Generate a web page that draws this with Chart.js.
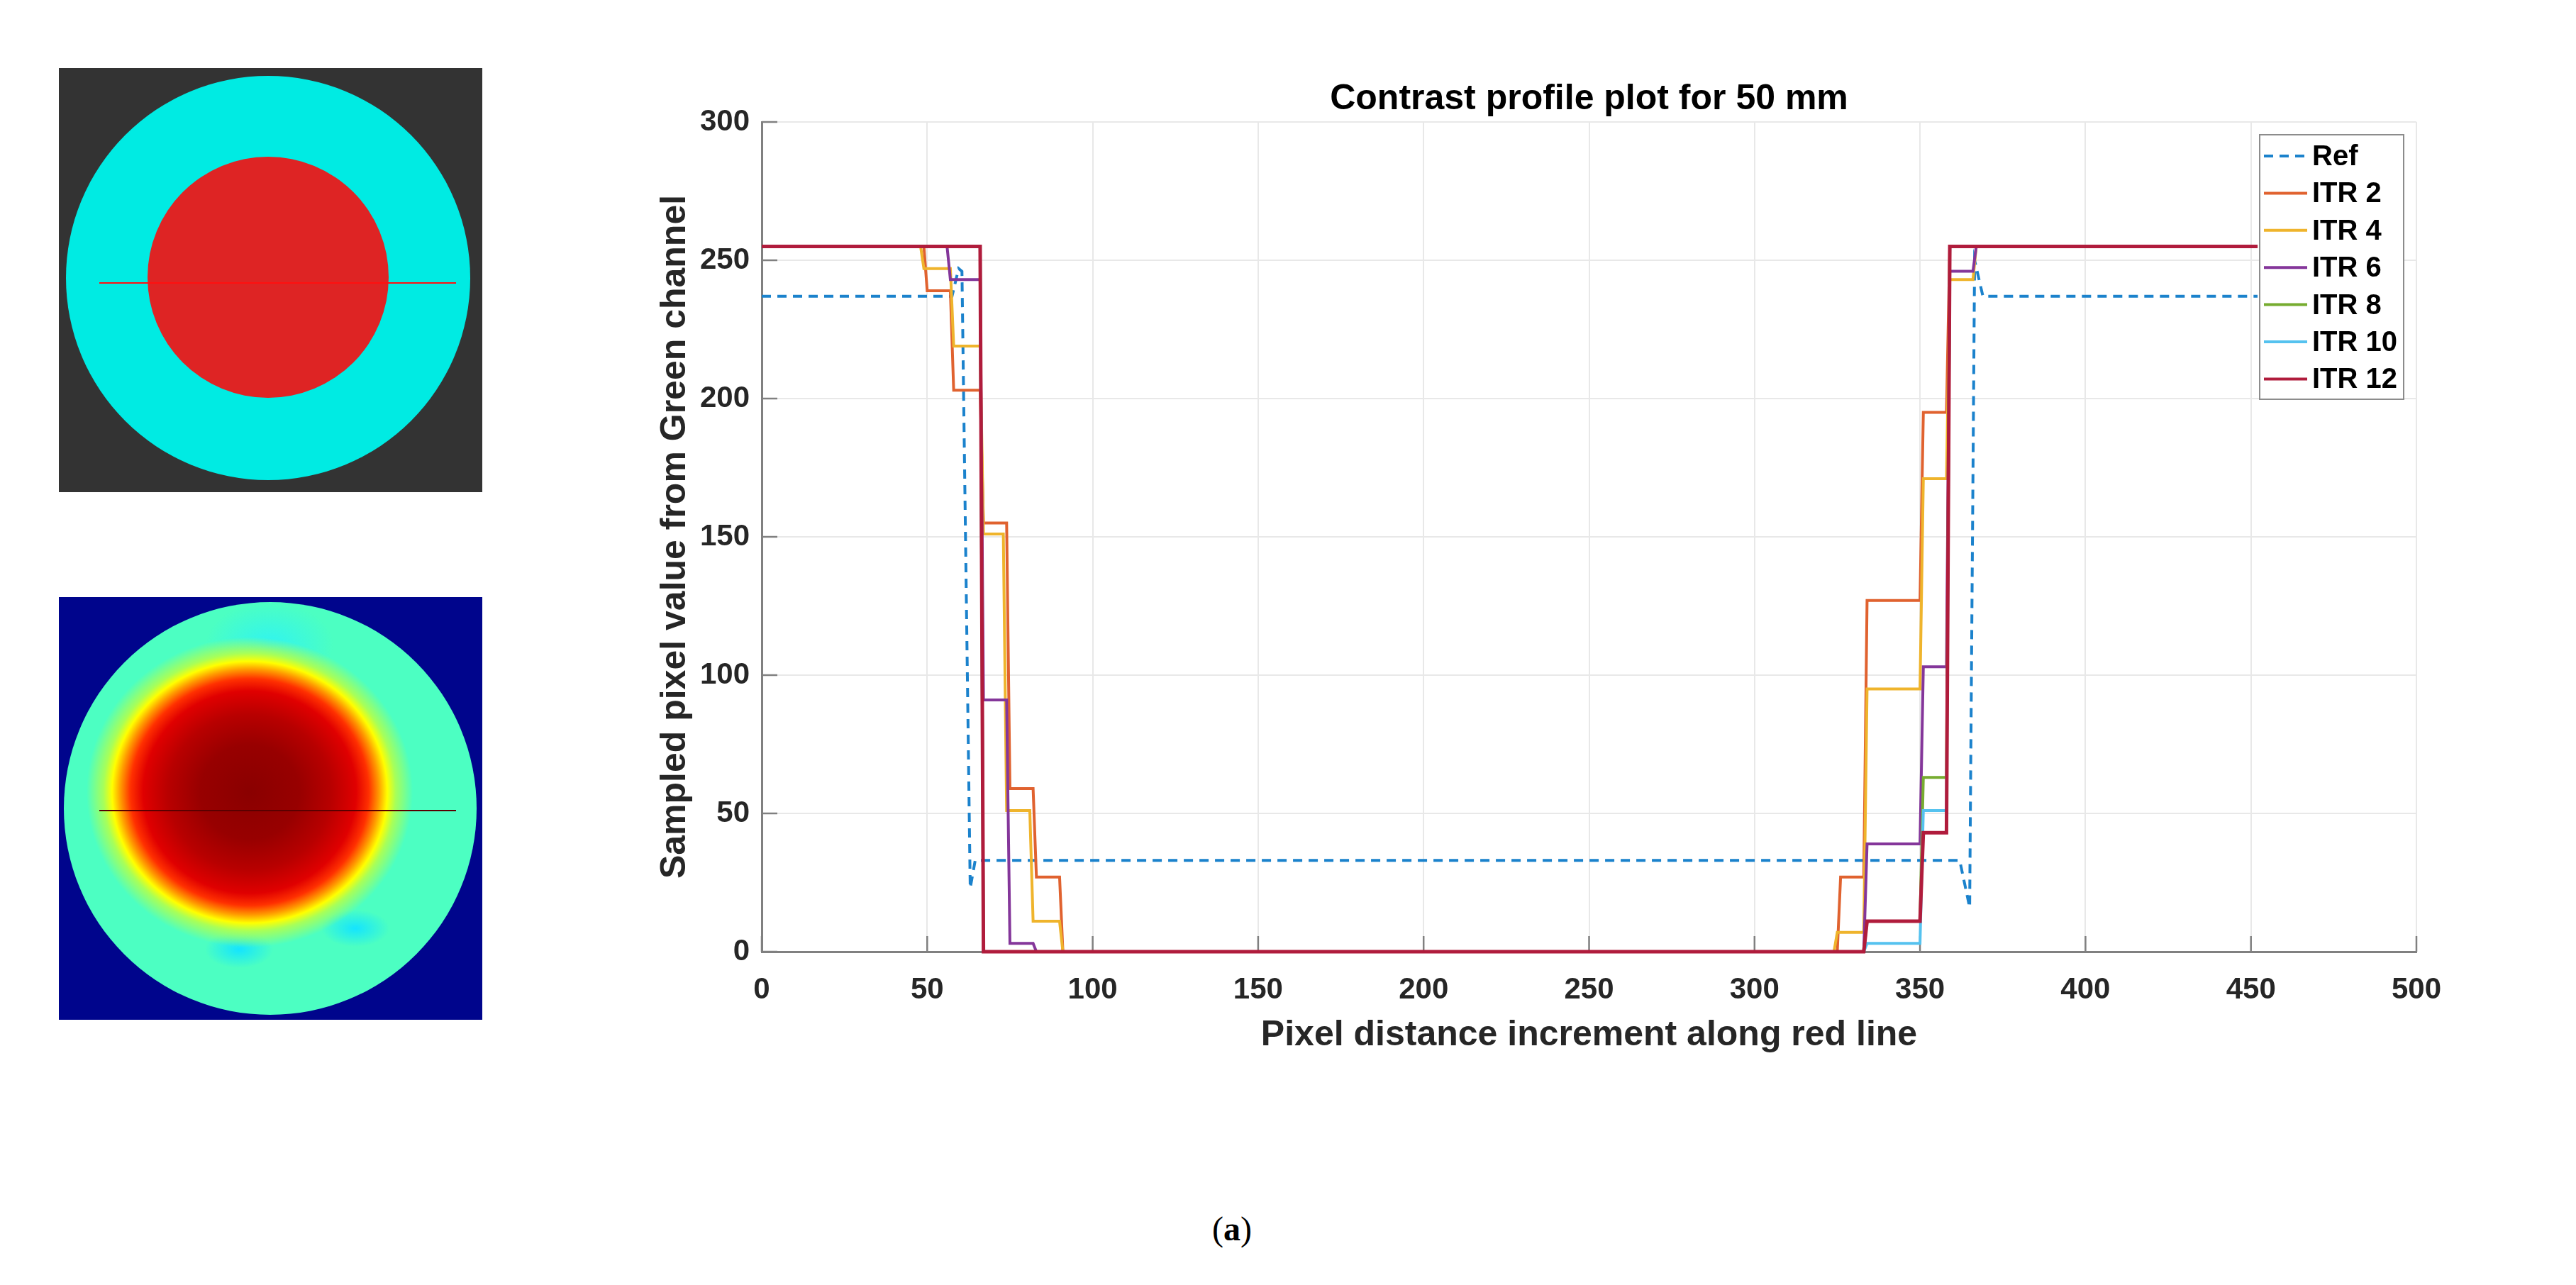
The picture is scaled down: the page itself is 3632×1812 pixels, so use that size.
<!DOCTYPE html>
<html>
<head>
<meta charset="utf-8">
<title>Contrast profile plot for 50 mm</title>
<script src="https://cdn.jsdelivr.net/npm/chart.js@4.4.1/dist/chart.umd.min.js"></script>
<style>
  html, body { margin: 0; padding: 0; background: #fff; width: 3632px; height: 1812px; overflow: hidden; }
  .box { position: absolute; overflow: hidden; }
  #phantom { left: 83px; top: 96px; width: 597px; height: 598px; background: #333333; }
  #recon { left: 83px; top: 842px; width: 597px; height: 596px; background: #00058c; }
  .disc { position: absolute; border-radius: 50%; }
  .cut { position: absolute; height: 2px; }
  #plot { position: absolute; left: 800px; top: 60px; width: 2700px; height: 1460px; }
  #caption { position: absolute; left: 1637px; top: 1705px; width: 200px; text-align: center;
             font: 48px "Liberation Serif", "DejaVu Serif", serif; color: #000; }
</style>
</head>
<body>

<!-- pictures on the left (phantom and reconstruction) -->
<div class="box" id="phantom">
  <div class="disc" style="left:10px; top:11px; width:570px; height:570px; background:#00ebe3;"></div>
  <div class="disc" style="left:125px; top:125px; width:340px; height:340px; background:#de2424;"></div>
  <div class="cut" style="left:57px; top:302px; width:503px; background:#ff1010;"></div>
</div>
<div class="box" id="recon">
  <div class="disc" style="left:7px; top:7px; width:582px; height:582px;
    background:
      radial-gradient(ellipse 205px 195px at 262px 268px, #8a0000 0px, #980000 70px, #b80000 115px, #e00000 150px, #ff3000 168px, #ff9a00 182px, #ffff00 194px, #a8ff58 206px, rgba(76,255,190,0) 230px),
      radial-gradient(ellipse 48px 26px at 247px 490px, #14e4ff 0px, rgba(20,228,255,0) 48px),
      radial-gradient(ellipse 48px 26px at 411px 460px, #14e4ff 0px, rgba(20,228,255,0) 48px),
      radial-gradient(ellipse 90px 60px at 290px 60px, #30f4f0 0px, rgba(48,244,240,0) 90px),
      #4cffc2;"></div>
  <div class="cut" style="left:57px; top:300px; width:503px; height:2px; background:#5a0000;"></div>
</div>

<div id="plot"><canvas id="chartCanvas"></canvas></div>
<div id="caption">(<b>a</b>)</div>

<script>
const seriesLabels = ["Ref", "ITR 2", "ITR 4", "ITR 6", "ITR 8", "ITR 10", "ITR 12"];

const refX = [0, 57.5, 59.5, 60.5, 63, 64.5, 362, 365, 366.5, 369, 452];
const refY = [237, 237, 247, 246, 23, 33, 33, 16, 250, 237, 237];

const itr2X = [0, 49, 50, 57, 58, 66, 67, 74, 75, 82, 83, 90, 91, 325, 326, 333, 334, 350, 351, 358, 359, 452];
const itr2Y = [255, 255, 239, 239, 203, 203, 155, 155, 59, 59, 27, 27, 0, 0, 27, 27, 127, 127, 195, 195, 255, 255];

const itr4X = [0, 48, 49, 57, 58, 66, 67, 73, 74, 81, 82, 90, 91, 324, 325, 333, 334, 350, 351, 358, 359, 366, 367, 452];
const itr4Y = [255, 255, 247, 247, 219, 219, 151, 151, 51, 51, 11, 11, 0, 0, 7, 7, 95, 95, 171, 171, 243, 243, 255, 255];

const itr6X = [0, 56, 57, 66, 67, 74, 75, 82, 83, 333, 334, 350, 351, 358, 359, 366, 367, 452];
const itr6Y = [255, 255, 243, 243, 91, 91, 3, 3, 0, 0, 39, 39, 103, 103, 246, 246, 255, 255];

const itr8X = [0, 66, 67, 333, 334, 350, 351, 358, 359, 452];
const itr8Y = [255, 255, 0, 0, 11, 11, 63, 63, 255, 255];

const itr10X = [0, 66, 67, 333, 334, 350, 351, 358, 359, 452];
const itr10Y = [255, 255, 0, 0, 3, 3, 51, 51, 255, 255];

const itr12X = [0, 66, 67, 333, 334, 350, 351, 358, 359, 452];
const itr12Y = [255, 255, 0, 0, 11, 11, 43, 43, 255, 255];

const FONT = '"Liberation Sans", Arial, sans-serif';

function makeSet(label, xs, ys, color, width, order, dash) {
  return {
    label: label,
    data: xs.map((x, i) => ({ x: x, y: ys[i] })),
    borderColor: color,
    backgroundColor: color,
    borderWidth: width,
    borderDash: dash || [],
    pointRadius: 0,
    tension: 0,
    fill: false,
    clip: false,
    order: order
  };
}

// legend drawn inside the axes, top right, like matlab
const legendInside = {
  id: "legendInside",
  afterDraw(chart) {
    const ctx = chart.ctx;
    const area = chart.chartArea;
    const w = 203, h = 373;
    const x0 = area.right - 18 - w;
    const y0 = area.top + 18;
    ctx.save();
    ctx.fillStyle = "#fff";
    ctx.fillRect(x0, y0, w, h);
    ctx.strokeStyle = "#8c8c8c";
    ctx.lineWidth = 2;
    ctx.strokeRect(x0, y0, w, h);
    ctx.font = "bold 40px " + FONT;
    ctx.textBaseline = "middle";
    chart.data.datasets.forEach((ds, i) => {
      const y = y0 + 30 + i * 52.4;
      ctx.strokeStyle = ds.borderColor;
      ctx.lineWidth = 4;
      ctx.setLineDash(ds.borderDash);
      ctx.beginPath();
      ctx.moveTo(x0 + 6, y);
      ctx.lineTo(x0 + 67, y);
      ctx.stroke();
      ctx.setLineDash([]);
      ctx.fillStyle = "#000";
      ctx.fillText(ds.label, x0 + 74, y + 2);
    });
    ctx.restore();
  }
};

// matlab ticks point into the axes
const innerTicks = {
  id: "innerTicks",
  beforeDatasetsDraw(chart) {
    const ctx = chart.ctx;
    const area = chart.chartArea;
    const xs = chart.scales.x, ys = chart.scales.y;
    ctx.save();
    ctx.strokeStyle = "#808080";
    ctx.lineWidth = 2.5;
    ctx.beginPath();
    xs.ticks.forEach(t => {
      const px = xs.getPixelForValue(t.value);
      ctx.moveTo(px, area.bottom);
      ctx.lineTo(px, area.bottom - 22);
    });
    ys.ticks.forEach(t => {
      const py = ys.getPixelForValue(t.value);
      ctx.moveTo(area.left, py);
      ctx.lineTo(area.left + 22, py);
    });
    ctx.stroke();
    ctx.restore();
  }
};

const ctx = document.getElementById("chartCanvas").getContext("2d");
new Chart(ctx, {
  type: "line",
  data: {
    datasets: [
      makeSet(seriesLabels[0], refX, refY, "#1b82cc", 4, 7, [13, 9]),
      makeSet(seriesLabels[1], itr2X, itr2Y, "#e0622f", 4, 6),
      makeSet(seriesLabels[2], itr4X, itr4Y, "#efb42c", 4, 5),
      makeSet(seriesLabels[3], itr6X, itr6Y, "#84369a", 4, 4),
      makeSet(seriesLabels[4], itr8X, itr8Y, "#77ac30", 4, 3),
      makeSet(seriesLabels[5], itr10X, itr10Y, "#55c2ef", 4, 2),
      makeSet(seriesLabels[6], itr12X, itr12Y, "#b01c3c", 5, 1)
    ]
  },
  options: {
    responsive: true,
    maintainAspectRatio: false,
    devicePixelRatio: 1,
    animation: false,
    layout: { padding: { left: 0, right: 93, top: 0, bottom: 0 } },
    plugins: {
      legend: { display: false },
      tooltip: { enabled: false },
      title: {
        display: true,
        fullSize: false,
        text: "Contrast profile plot for 50 mm",
        color: "#000",
        font: { family: FONT, size: 50, weight: "bold" },
        padding: { top: 50, bottom: 2 }
      }
    },
    scales: {
      x: {
        type: "linear",
        min: 0,
        max: 500,
        afterFit(scale) { scale.height = 178; },
        ticks: { stepSize: 50, color: "#262626", padding: 29, font: { family: FONT, size: 42, weight: "bold" } },
        grid: { color: "#e8e8e8", lineWidth: 2, drawTicks: false },
        border: { display: true, color: "#808080", width: 3 },
        title: {
          display: true,
          text: "Pixel distance increment along red line",
          color: "#262626",
          font: { family: FONT, size: 50, weight: "bold" },
          padding: { top: 0, bottom: 30 }
        }
      },
      y: {
        min: 0,
        max: 300,
        afterFit(scale) { scale.width = 274; },
        ticks: { stepSize: 50, color: "#262626", padding: 17, font: { family: FONT, size: 42, weight: "bold" } },
        grid: { color: "#e8e8e8", lineWidth: 2, drawTicks: false },
        border: { display: true, color: "#808080", width: 3 },
        title: {
          display: true,
          text: "Sampled pixel value from Green channel",
          color: "#262626",
          font: { family: FONT, size: 50, weight: "bold" },
          padding: { top: 122, bottom: 0 }
        }
      }
    }
  },
  plugins: [innerTicks, legendInside]
});
</script>
</body>
</html>
